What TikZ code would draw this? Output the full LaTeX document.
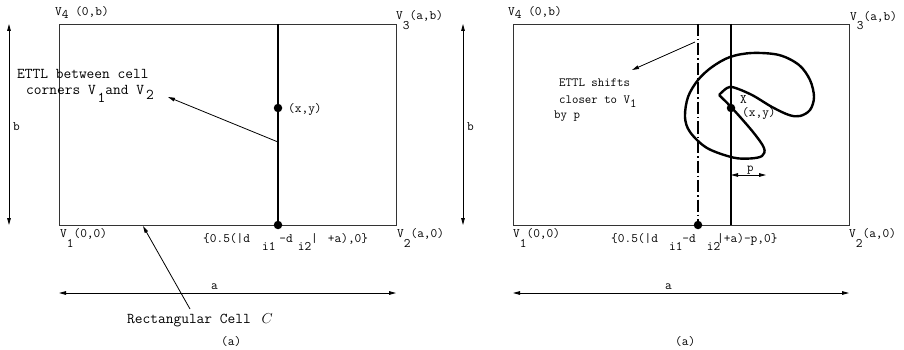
\documentclass[tikz,border=0pt]{standalone}
\usetikzlibrary{arrows.meta}
\newcommand\lowr[2]{\raisebox{-#1pt}{#2}}
\begin{document}
\begin{tikzpicture}[x=1pt,y=-1pt,
  lab/.style={inner sep=0pt, anchor=base west, font=\fontsize{13}{15}\selectfont\ttfamily},
  biglab/.style={lab, font=\fontsize{15}{17}\selectfont\ttfamily},
  smalllab/.style={lab, font=\fontsize{12.5}{14}\selectfont\ttfamily},
  caplab/.style={lab, font=\fontsize{13}{15}\selectfont\ttfamily},
  cell/.style={draw=black!80, line width=0.9pt},
  ettl/.style={line width=2.4pt},
  shifted/.style={line width=2.4pt, dash pattern=on 12pt off 3pt on 1.5pt off 3pt},
  tip/.style={-{Triangle[length=7pt,width=3.6pt]}, line width=0.8pt},
  dim/.style={{Triangle[length=7pt,width=3.6pt]}-{Triangle[length=7pt,width=3.6pt]}, line width=0.8pt},
  dot/.style={circle, fill, inner sep=0pt, minimum size=8.5pt},
  blob/.style={line width=2.4pt, line join=round},
]
\useasboundingbox (0,0) rectangle (904,350);

% ---------------- left panel ----------------
\coordinate (L1) at (59,225);
\coordinate (L3) at (396,24);
\draw[cell] (L1) rectangle (L3);
\coordinate (LT) at (278,24);
\coordinate (LB) at (278,225);
\draw[ettl] (LT) -- (LB);
\node[dot] (Lxy) at (278,108) {};
\node[dot] (Lbot) at (278,225) {};
\node[lab] (Lxylab) at (288,113) {(x,y)};
\coordinate (LarrS) at (278,142);
\coordinate (LarrE) at (168,97);
\draw[tip] (LarrS) -- (LarrE);
\node[biglab] (Lettl1) at (17,79) {ETTL between cell};
\node[biglab] (Lettl2) at (26,95) {corners V\hspace{2pt}\lowr{8}{1}and V\hspace{2pt}\lowr{5}{2}};

\node[lab] (LV4) at (55,15.5) {V\lowr{3}{4} (0,b)};
\node[lab] (LV3) at (396,20) {V\lowr{10}{3}(a,b)};
\node[lab] (LV1) at (60,237) {V\lowr{10}{1}(0,0)};
\node[lab] (LV2) at (397,237) {V\lowr{10}{2}(a,0)};
\node[lab] (Lform) at (203,242) {\{0.5(|d\hspace{12pt}\lowr{8}{i1}\hspace{4pt}-d\hspace{5pt}\lowr{8}{i2}|\hspace{10pt}+a),0\}};

\coordinate (bLt) at (9,24);
\coordinate (bLb) at (9,225);
\draw[dim] (bLt) -- (bLb);
\node[lab] (bL) at (13,130) {b};
\coordinate (bRt) at (463,24);
\coordinate (bRb) at (463,225);
\draw[dim] (bRt) -- (bRb);
\node[lab] (bR) at (467,130) {b};

\coordinate (aLl) at (59,293);
\coordinate (aLr) at (396,293);
\draw[dim] (aLl) -- (aLr);
\node[lab] (aL) at (211,289) {a};

\node[biglab] (cellLab) at (127,323) {Rectangular Cell \hspace{3pt}$C$};
\coordinate (cellS) at (190,309);
\coordinate (cellE) at (143,226);
\draw[tip] (cellS) -- (cellE);
\node[caplab] (capL) at (221,345) {(a)};

% ---------------- right panel ----------------
\coordinate (R1) at (513,225);
\coordinate (R3) at (849,24);
\draw[cell] (R1) rectangle (R3);
\coordinate (RdT) at (698,24);
\coordinate (RdB) at (698,225);
\draw[shifted] (RdT) -- (RdB);
\coordinate (RT) at (731,24);
\coordinate (RB) at (731,225);
\draw[ettl] (RT) -- (RB);

\draw[blob] plot[smooth, tension=0.55] coordinates {
 (719,95) (732,108) (753,132) (764,148) (762,156) (750,158.5) (733,157.5)
 (707,148) (690,132) (685,117) (688,97) (698,80) (712,67) (730,57) (752,53)
 (779,55) (799,65) (810,80) (814,97) (810,110) (800,116) (789,115) (772,107)
 (752,95) (734,87.5) (727,88) (719,95)};

\node[dot] (Rxy) at (731,108) {};
\node[dot] (Rbot) at (698,225) {};
\node[lab] (RX) at (740,103) {X};
\node[lab] (Rxylab) at (742,117) {(x,y)};

\coordinate (RarrS) at (695,42);
\coordinate (RarrE) at (632,70);
\draw[tip] (RarrS) -- (RarrE);
\node[smalllab] (Rettl1) at (559,87) {ETTL shifts};
\node[smalllab] (Rettl2) at (559,104) {closer to V\lowr{3}{1}};
\node[smalllab] (Rettl3) at (554,118) {by p};

\coordinate (pL) at (731,175);
\coordinate (pR) at (766,175);
\draw[dim] (pL) -- (pR);
\node[smalllab] (pLab) at (747,171) {p};

\node[lab] (RV4) at (508,15.5) {V\lowr{3}{4} (0,b)};
\node[lab] (RV3) at (850,21) {V\lowr{9}{3}(a,b)};
\node[lab] (RV1) at (513,237) {V\lowr{10}{1}(0,0)};
\node[lab] (RV2) at (849,237) {V\lowr{10}{2}(a,0)};
\node[lab] (Rform) at (611,242) {\{0.5(|d\hspace{11pt}\lowr{8}{i1}-d\hspace{11pt}\lowr{8}{i2}\hspace{-3pt}|+a)-p,0\}};

\coordinate (aRl) at (513,293);
\coordinate (aRr) at (849,293);
\draw[dim] (aRl) -- (aRr);
\node[lab] (aR) at (665,289) {a};
\node[caplab] (capR) at (675,345) {(a)};
\end{tikzpicture}
\end{document}
